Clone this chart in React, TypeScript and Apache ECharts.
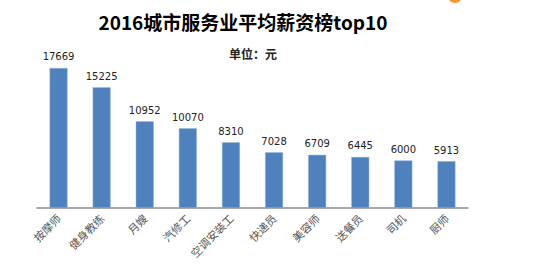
import React, { useEffect, useRef } from "react";
import * as echarts from "echarts";

const categories = ["按摩师", "健身教练", "月嫂", "汽修工", "空调安装工", "快递员", "美容师", "送餐员", "司机", "厨师"];
const salaries = [17669, 15225, 10952, 10070, 8310, 7028, 6709, 6445, 6000, 5913];
const titleText = "2016城市服务业平均薪资榜top10";
const subtitleText = "单位：元";

export default function App() {
  const ref = useRef<HTMLDivElement>(null);
  useEffect(() => {
    if (!ref.current) return;
    const chart = echarts.init(ref.current, null, { renderer: "svg" });
    chart.setOption({
      animation: false,
      backgroundColor: "#ffffff",
      title: [
        {
          text: titleText,
          left: 238,
          top: 7,
          textAlign: "center",
          textStyle: { fontSize: 19, fontWeight: "bold", color: "#000", fontFamily: "Noto Sans CJK SC" },
        },
        {
          text: subtitleText,
          left: 248,
          top: 42,
          textAlign: "center",
          textStyle: { fontSize: 12, fontWeight: "bold", color: "#222", fontFamily: "Noto Sans CJK SC" },
        },
      ],
      graphic: [
        { type: "circle", shape: { cx: 455, cy: -4, r: 7 }, style: { fill: "#f39a2b" } },
      ],
      grid: { left: 37, right: 82, top: 49.5, bottom: 69, containLabel: false },
      xAxis: {
        type: "category",
        data: categories,
        axisLine: { lineStyle: { color: "#8c8c8c", width: 1.5 } },
        axisTick: { show: false },
        axisLabel: {
          rotate: 45,
          interval: 0,
          margin: 8,
          color: "#555",
          fontSize: 11,
          fontFamily: "Noto Sans CJK SC",
        },
      },
      yAxis: {
        type: "value",
        min: 0,
        max: 20000,
        show: false,
        splitLine: { show: false },
      },
      series: [
        {
          type: "bar",
          data: salaries,
          barWidth: 18,
          itemStyle: { color: "#4f81bd", borderColor: "#9bb8dc", borderWidth: 0.5 },
          label: {
            show: true,
            position: "top",
            distance: 6,
            color: "#222",
            fontSize: 10,
            fontFamily: "DejaVu Sans",
          },
        },
      ],
    });
    return () => chart.dispose();
  }, []);
  return <div ref={ref} style={{ width: 550, height: 277, position: "absolute", left: 0, top: 0 }} />;
}
